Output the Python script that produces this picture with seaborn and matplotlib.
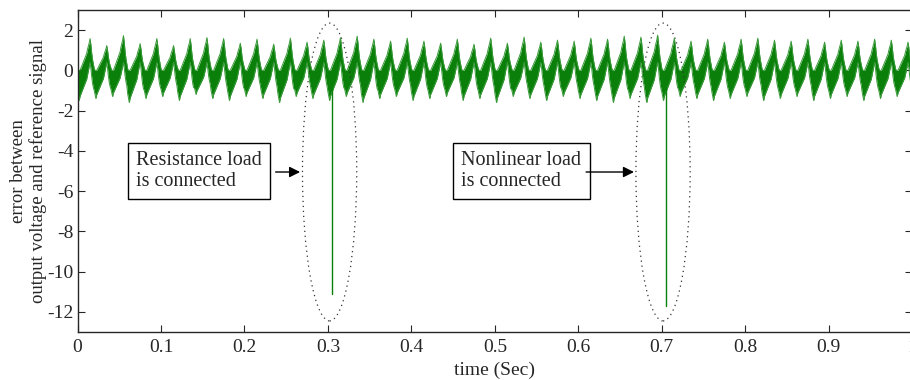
import numpy as np
import pandas as pd
import seaborn as sns
import matplotlib
matplotlib.use("Agg")
import matplotlib.pyplot as plt
from matplotlib.patches import Ellipse

# one 20 ms cycle of the error band, read every 1 ms (upper / lower edge)
cycle_ms = [0, 1, 2, 3, 4, 5, 6, 7, 8, 9, 10, 11, 12, 13, 14, 15, 16, 17, 18, 19]
cycle_upper = [0.1, 0.0, 0.0, 0.0, 0.1, 0.2, 0.3, 0.4, 0.5, 0.6,
               0.7, 0.8, 1.0, 1.15, 1.3, 1.5, 1.2, 0.8, 0.5, 0.3]
cycle_lower = [-1.0, -1.2, -1.4, -1.2, -1.1, -1.0, -0.9, -0.8, -0.7, -0.6,
               -0.5, -0.4, -0.2, 0.0, 0.2, 0.4, 0.1, -0.3, -0.6, -0.8]

# peak top / trough bottom of each of the 50 cycles
peak_top = [1.58, 1.23, 1.73, 1.33, 1.58, 1.23, 1.58, 1.63, 1.58, 1.35,
            1.55, 1.30, 1.60, 1.40, 1.50, 1.62, 1.70, 1.55, 1.45, 1.60,
            1.45, 1.35, 1.55, 1.30, 1.60, 1.35, 1.65, 1.40, 1.50, 1.45,
            1.60, 1.55, 1.70, 1.65, 1.75, 1.60, 1.45, 1.55, 1.40, 1.55,
            1.60, 1.50, 1.45, 1.55, 1.40, 1.50, 1.45, 1.55, 1.50, 1.40]
trough_bottom = [-1.5, -1.4, -1.3, -1.6, -1.4, -1.3, -1.5, -1.2, -1.4, -1.5,
                 -1.3, -1.4, -1.6, -1.3, -1.4, -1.5, -1.3, -1.6, -1.4, -1.3,
                 -1.5, -1.4, -1.3, -1.5, -1.4, -1.6, -1.3, -1.4, -1.5, -1.3,
                 -1.4, -1.5, -1.6, -1.4, -1.6, -1.5, -1.3, -1.4, -1.5, -1.4,
                 -1.3, -1.5, -1.4, -1.3, -1.5, -1.4, -1.3, -1.5, -1.4, -1.3]

# load switching transients
spike_time = [0.305, 0.705]
spike_depth = [-11.1, -11.7]

notes = ["Resistance load\nis connected", "Nonlinear load\nis connected"]
note_x = [0.070, 0.460]
arrow_from = [0.234, 0.606]
arrow_to = [0.270, 0.670]
ellipse_x = [0.302, 0.7015]

# assemble the band from the read cycles
t, up, lo = [], [], []
for k in range(len(peak_top)):
    su = peak_top[k] / max(cycle_upper)
    sl = trough_bottom[k] / min(cycle_lower)
    for m, u, l in zip(cycle_ms, cycle_upper, cycle_lower):
        t.append(0.02 * k + m / 1000)
        up.append(u * su if u > 0 else u)
        lo.append(l * sl if l < 0 else l)
df = pd.DataFrame({"t": t, "upper": up, "lower": lo})

sns.set_style("ticks")
plt.rcParams['font.family'] = ['Liberation Serif', 'DejaVu Serif']
plt.rcParams['axes.unicode_minus'] = False
plt.rcParams['xtick.direction'] = 'in'
plt.rcParams['ytick.direction'] = 'in'

green = "#0a800a"
fig = plt.figure(figsize=(9.1, 3.8), dpi=100)
ax = fig.add_axes([0.0852, 0.1263, 0.9172, 0.8474])

ax.fill_between(df["t"], df["lower"], df["upper"], color=green, linewidth=0)
sns.lineplot(data=df, x="t", y="upper", ax=ax, color="#3a9a3a", linewidth=0.7)
sns.lineplot(data=df, x="t", y="lower", ax=ax, color="#3a9a3a", linewidth=0.7)
for st, sd in zip(spike_time, spike_depth):
    ax.plot([st, st], [0, sd], color=green, linewidth=1.0)

for ex in ellipse_x:
    ax.add_patch(Ellipse((ex, -5.05), 0.065, 14.8, fill=False,
                         edgecolor="#333333", linestyle=(0, (1, 3)), linewidth=0.9))

for txt, nx, a0, a1 in zip(notes, note_x, arrow_from, arrow_to):
    ax.text(nx, -5.0, txt, fontsize=14.5, ha="left", va="center", linespacing=1.15,
            bbox=dict(boxstyle="square,pad=0.4", facecolor="white", edgecolor="black", linewidth=1.0))
    ax.annotate("", xy=(a1, -5.05), xytext=(a0, -5.05),
                arrowprops=dict(arrowstyle="-|>", color="black", linewidth=1.0, mutation_scale=16))

ax.set_xlim(0, 1)
ax.set_ylim(-13, 3)
ax.set_xticks(np.arange(0, 1.01, 0.1))
ax.set_xticklabels(["0", "0.1", "0.2", "0.3", "0.4", "0.5", "0.6", "0.7", "0.8", "0.9", "1"])
ax.set_yticks(np.arange(-12, 3, 2))
ax.tick_params(labelsize=14, top=True, right=True, length=5, width=0.8, pad=5)
ax.tick_params(axis="y", pad=3)
ax.set_xlabel("time (Sec)", fontsize=14, labelpad=4)
ax.set_ylabel("error between\noutput voltage and reference signal", fontsize=13.5, linespacing=1.15)
ax.yaxis.set_label_coords(-0.037, 0.5)
for s in ax.spines.values():
    s.set_linewidth(1.0)

fig.savefig("out.png", dpi=100)
